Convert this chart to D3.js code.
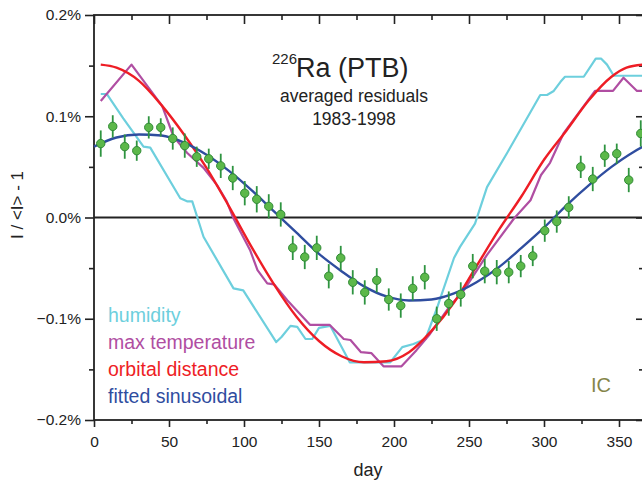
<!DOCTYPE html>
<html>
<head>
<meta charset="utf-8">
<script src="https://cdnjs.cloudflare.com/ajax/libs/d3/7.8.5/d3.min.js"></script>
<style>
  body { margin: 0; background: #fff; }
  text { font-family: "Liberation Sans", Arial, sans-serif; }
</style>
</head>
<body>
<svg id="chart" width="642" height="484"></svg>
<script>
/*Chart data (values in %)*/
var pointDays = [4.5, 12.5, 20.5, 28.5, 36.5, 44.5, 52.5, 60.5, 68.5, 76.5,
                 84.5, 92.5, 100.5, 108.5, 116.5, 124.5, 132.5, 140.5, 148.5, 156.5,
                 164.5, 172.5, 180.5, 188.5, 196.5, 204.5, 212.5, 220.5, 228.5, 236.5,
                 244.5, 252.5, 260.5, 268.5, 276.5, 284.5, 292.5, 300.5, 308.5, 316.5,
                 324.5, 332.5, 340.5, 348.5, 356.5, 364.5];
var pointVals = [0.073, 0.090, 0.070, 0.066, 0.089, 0.089, 0.078, 0.071, 0.060, 0.058,
                 0.051, 0.039, 0.024, 0.018, 0.011, 0.003, -0.030, -0.039, -0.030, -0.058,
                 -0.040, -0.064, -0.074, -0.062, -0.081, -0.087, -0.070, -0.059, -0.100, -0.085,
                 -0.076, -0.048, -0.053, -0.054, -0.054, -0.048, -0.038, -0.013, -0.004, 0.010,
                 0.050, 0.038, 0.061, 0.063, 0.037, 0.083];
var pointErrs = [0.013, 0.011, 0.012, 0.010, 0.011, 0.009, 0.011, 0.012, 0.010, 0.010,
                 0.012, 0.012, 0.012, 0.013, 0.012, 0.012, 0.012, 0.012, 0.012, 0.012,
                 0.012, 0.012, 0.012, 0.012, 0.011, 0.012, 0.012, 0.012, 0.012, 0.012,
                 0.012, 0.012, 0.012, 0.012, 0.011, 0.011, 0.010, 0.011, 0.011, 0.011,
                 0.011, 0.012, 0.011, 0.010, 0.012, 0.013];

var humidityDays = [4.5, 8.5, 19.5, 33, 37.5, 57.5, 62, 65.5, 73, 93,
                    99.5, 121.5, 125, 131, 135.5, 141, 145.5, 150, 157.5, 170.5,
                    197.5, 205.5, 213, 221, 229, 240, 244, 254, 262, 275.5,
                    297.5, 302, 306.5, 311, 314, 326.5, 334.5, 338, 342, 346.5, 366];
var humidityVals = [0.122, 0.122, 0.098, 0.070, 0.069, 0.019, 0.016, 0.016, -0.019, -0.070,
                    -0.072, -0.123, -0.118, -0.107, -0.108, -0.120, -0.120, -0.109, -0.107, -0.143,
                    -0.143, -0.128, -0.125, -0.120, -0.088, -0.040, -0.029, -0.006, 0.030, 0.064,
                    0.121, 0.121, 0.125, 0.134, 0.139, 0.139, 0.157, 0.157, 0.151, 0.140, 0.140];

var tempDays = [4.5, 25, 45.5, 53, 62, 73, 82, 88.5, 93, 104,
                109, 115.5, 120, 129, 144, 157, 166.5, 171, 178, 185,
                193, 205, 215, 224, 237, 246.5, 262, 280, 291, 298,
                304, 313, 324, 334, 346, 353, 362, 366];
var tempVals = [0.115, 0.151, 0.110, 0.080, 0.064, 0.049, 0.032, 0.016, -0.001, -0.032,
                -0.052, -0.065, -0.066, -0.082, -0.106, -0.106, -0.120, -0.121, -0.133, -0.134,
                -0.147, -0.147, -0.131, -0.115, -0.088, -0.072, -0.037, -0.001, 0.017, 0.042,
                0.054, 0.083, 0.105, 0.125, 0.125, 0.138, 0.125, 0.125];

var orbitDays = [4.5, 15, 30, 45, 60, 75, 90, 105, 120, 135, 150, 165, 180,
                 195, 210, 225, 240, 255, 270, 285, 300, 315, 330, 345, 355, 366];
var orbitVals = [0.151, 0.148, 0.135, 0.111, 0.082, 0.049, 0.011, -0.029, -0.066, -0.098, -0.122, -0.137, -0.143,
                 -0.142, -0.133, -0.112, -0.084, -0.048, -0.012, 0.021, 0.057, 0.086, 0.116, 0.139, 0.148, 0.151];

var fitDays = [0, 15, 30, 45, 60, 75, 90, 105, 120, 135, 150, 165, 180,
               195, 210, 225, 240, 255, 270, 285, 300, 315, 330, 345, 360, 366];
var fitVals = [0.070, 0.079, 0.082, 0.081, 0.074, 0.062, 0.046, 0.027, 0.006, -0.015, -0.036, -0.053, -0.068,
               -0.078, -0.082, -0.081, -0.075, -0.064, -0.049, -0.030, -0.010, 0.012, 0.032, 0.050, 0.065, 0.070];

var dayTicks = [0, 50, 100, 150, 200, 250, 300, 350];
var dayMinorTicks = [25, 75, 125, 175, 225, 275, 325];
var valTicks = [-0.2, -0.1, 0.0, 0.1, 0.2];
var valMinorTicks = [-0.15, -0.05, 0.05, 0.15];

var legendNames = ["humidity", "max temperature", "orbital distance", "fitted sinusoidal"];
var legendColors = ["#6dcfdd", "#b04ea2", "#ee1d25", "#2f4d9f"];

/*Scales*/
var svg = d3.select("#chart");
var x = d3.scaleLinear().domain([0, 366]).range([94, 643]);
var y = d3.scaleLinear().domain([-0.2, 0.2]).range([420, 15]);

function zipSeries(days, vals){
  return days.map(function(d, i){ return {day: d, val: vals[i]}; });
}

/*Axes*/
function styleAxis(g){
  g.select(".domain").remove();
  g.selectAll("line").attr("stroke", "#222").attr("stroke-width", 1.6);
  g.selectAll("text").attr("fill", "#222").attr("font-size", 15.5)
    .attr("font-family", "'Liberation Sans', Arial, sans-serif");
}

svg.append("g").attr("transform", "translate(94,0)")
  .call(d3.axisLeft(y).tickValues(valTicks).tickSize(9).tickPadding(4)
    .tickFormat(function(d){ return d3.format(".1f")(d) + "%"; }))
  .call(styleAxis);
svg.append("g").attr("transform", "translate(94,0)")
  .call(d3.axisLeft(y).tickValues(valMinorTicks).tickSize(5).tickFormat(""))
  .call(styleAxis);

svg.append("g").attr("transform", "translate(643,0)")
  .call(d3.axisRight(y).tickValues(valTicks).tickSize(-7).tickFormat(""))
  .call(styleAxis);
svg.append("g").attr("transform", "translate(643,0)")
  .call(d3.axisRight(y).tickValues(valMinorTicks).tickSize(-4).tickFormat(""))
  .call(styleAxis);

svg.append("g").attr("transform", "translate(0,420)")
  .call(d3.axisBottom(x).tickValues(dayTicks).tickSize(7).tickPadding(9))
  .call(styleAxis);
svg.append("g").attr("transform", "translate(0,420)")
  .call(d3.axisBottom(x).tickValues(dayMinorTicks).tickSize(4).tickFormat(""))
  .call(styleAxis);

svg.append("g").attr("transform", "translate(0,15)")
  .call(d3.axisBottom(x).tickValues(dayTicks).tickSize(9).tickFormat(""))
  .call(styleAxis);
svg.append("g").attr("transform", "translate(0,15)")
  .call(d3.axisBottom(x).tickValues(dayMinorTicks).tickSize(5).tickFormat(""))
  .call(styleAxis);

/*Frame and zero line*/
svg.append("rect")
  .attr("x", x(0)).attr("y", y(0.2))
  .attr("width", x(366) - x(0)).attr("height", y(-0.2) - y(0.2))
  .attr("fill", "none").attr("stroke", "#222").attr("stroke-width", 1.8);

svg.append("line")
  .attr("x1", x(0)).attr("x2", x(366))
  .attr("y1", y(0)).attr("y2", y(0))
  .attr("stroke", "#222").attr("stroke-width", 2);

/*Curves*/
var plot = svg.append("g");

var straightLine = d3.line()
  .x(function(d){ return x(d.day); })
  .y(function(d){ return y(d.val); });
var smoothLine = d3.line()
  .curve(d3.curveMonotoneX)
  .x(function(d){ return x(d.day); })
  .y(function(d){ return y(d.val); });

plot.append("path").datum(zipSeries(humidityDays, humidityVals))
  .attr("d", straightLine).attr("fill", "none")
  .attr("stroke", legendColors[0]).attr("stroke-width", 2.2).attr("stroke-linejoin", "round");
plot.append("path").datum(zipSeries(tempDays, tempVals))
  .attr("d", straightLine).attr("fill", "none")
  .attr("stroke", legendColors[1]).attr("stroke-width", 2.2).attr("stroke-linejoin", "round");
plot.append("path").datum(zipSeries(orbitDays, orbitVals))
  .attr("d", smoothLine).attr("fill", "none")
  .attr("stroke", legendColors[2]).attr("stroke-width", 2.4);
plot.append("path").datum(zipSeries(fitDays, fitVals))
  .attr("d", smoothLine).attr("fill", "none")
  .attr("stroke", legendColors[3]).attr("stroke-width", 2.4);

/*Data points with error bars*/
var points = zipSeries(pointDays, pointVals);
points.forEach(function(p, i){ p.err = pointErrs[i]; });

var pts = plot.selectAll("g.pt").data(points).enter().append("g").attr("class", "pt");
pts.append("line")
  .attr("x1", function(d){ return x(d.day); })
  .attr("x2", function(d){ return x(d.day); })
  .attr("y1", function(d){ return y(d.val + d.err); })
  .attr("y2", function(d){ return y(d.val - d.err); })
  .attr("stroke", "#2e9440").attr("stroke-width", 1.8);
pts.append("circle")
  .attr("cx", function(d){ return x(d.day); })
  .attr("cy", function(d){ return y(d.val); })
  .attr("r", 4.2)
  .attr("fill", "#5cb84a").attr("stroke", "#2f8a35").attr("stroke-width", 1);

/*Title block*/
svg.append("text").attr("x", 272).attr("y", 64)
  .attr("font-size", 15).attr("fill", "#222").text("226");
svg.append("text").attr("x", 296).attr("y", 77)
  .attr("font-size", 27).attr("fill", "#222").text("Ra (PTB)");
svg.append("text").attr("x", 354).attr("y", 102)
  .attr("text-anchor", "middle").attr("font-size", 17.5).attr("fill", "#222")
  .text("averaged residuals");
svg.append("text").attr("x", 354).attr("y", 125)
  .attr("text-anchor", "middle").attr("font-size", 17.5).attr("fill", "#222")
  .text("1983-1998");

/*Legend*/
svg.selectAll("text.legend").data(legendNames).enter().append("text")
  .attr("class", "legend")
  .attr("x", 108)
  .attr("y", function(d, i){ return 322 + i * 27; })
  .attr("font-size", 19.5)
  .attr("fill", function(d, i){ return legendColors[i]; })
  .text(function(d){ return d; });

svg.append("text").attr("x", 591).attr("y", 392)
  .attr("font-size", 20).attr("fill", "#85854a").text("IC");

/*Axis titles*/
svg.append("text").attr("x", 368).attr("y", 476)
  .attr("text-anchor", "middle").attr("font-size", 18).attr("fill", "#222").text("day");
svg.append("text")
  .attr("transform", "translate(23,205) rotate(-90)")
  .attr("text-anchor", "middle").attr("font-size", 17).attr("fill", "#222")
  .text("I / <I> - 1");
</script>
</body>
</html>
